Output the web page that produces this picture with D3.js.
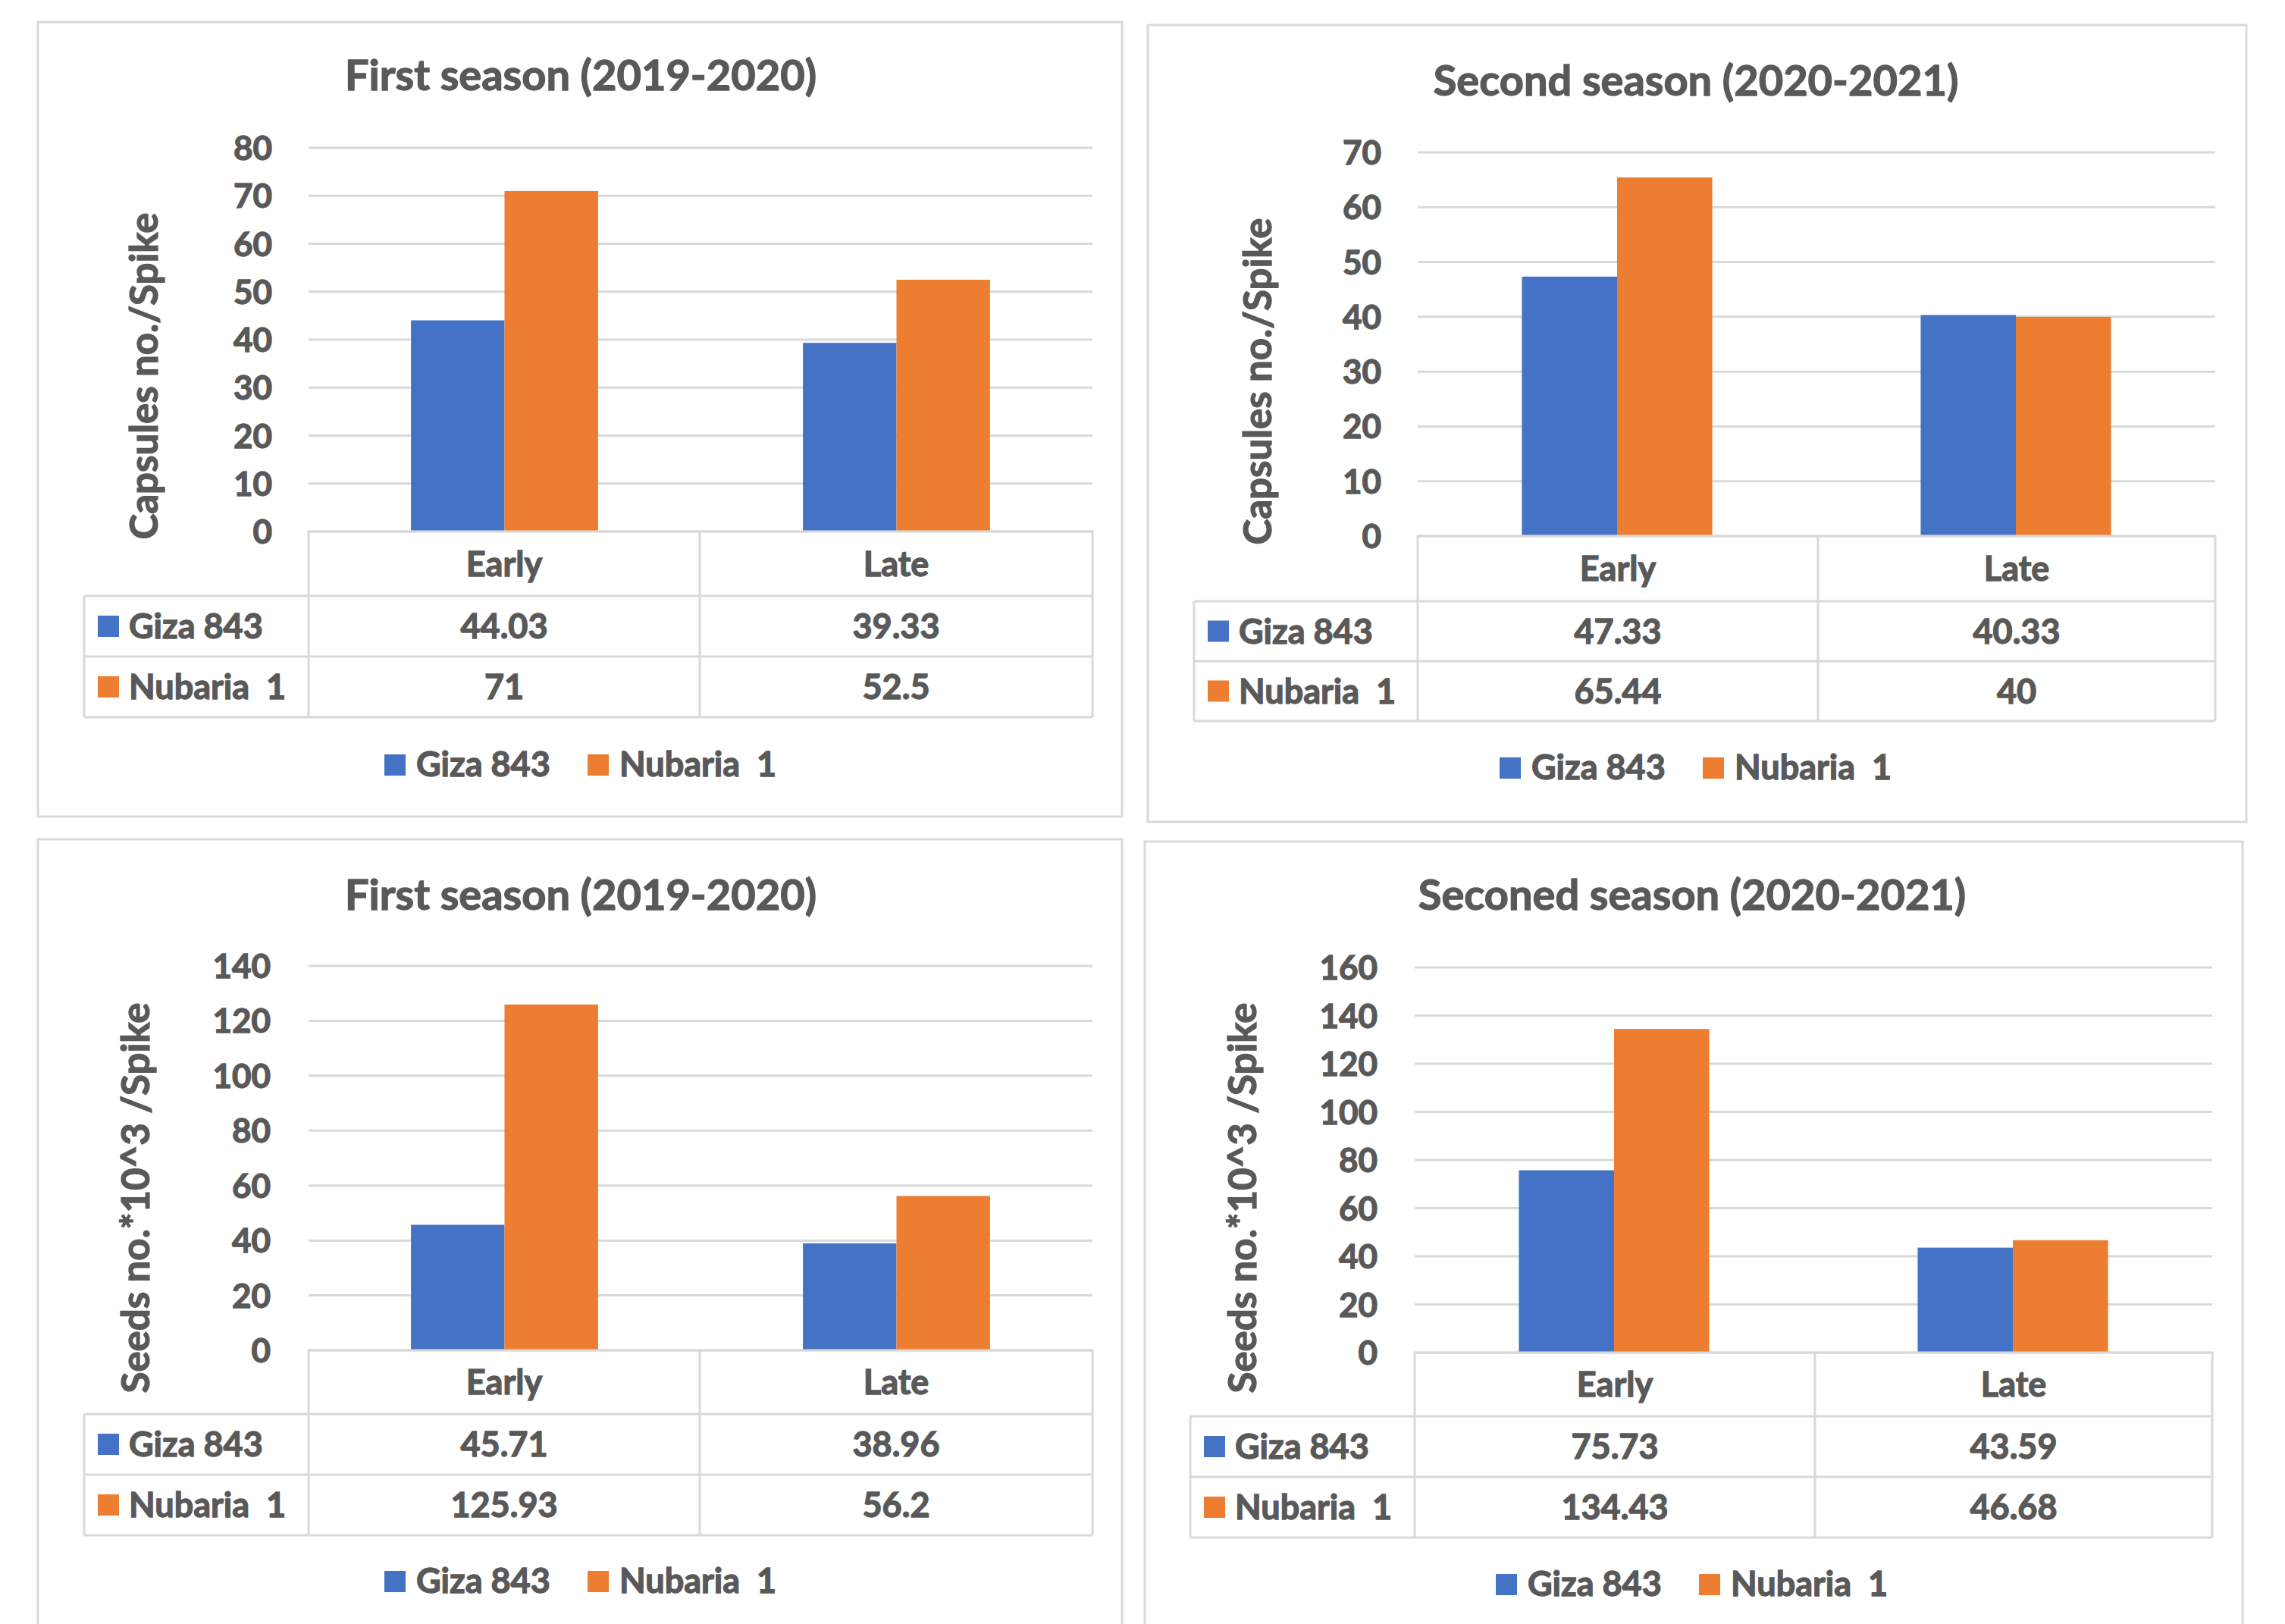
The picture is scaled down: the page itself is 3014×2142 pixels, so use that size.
<!DOCTYPE html>
<meta charset="utf-8">
<style>
body { margin: 0; background: #fff; }
text { font-family: Lato, "Open Sans", sans-serif; font-weight: bold; fill: #595959; stroke: #595959; stroke-width: 1.3px; }
.grid { stroke: #d9d9d9; stroke-width: 3px; }
.cell { stroke: #d9d9d9; stroke-width: 3px; fill: none; }
.frame { stroke: #d9d9d9; stroke-width: 3px; fill: #fff; }
</style>
<script src="https://d3js.org/d3.v7.min.js"></script>
<body>
<svg width="3014" height="2142"></svg>
</body>
<script>

// data
var categories = ["Early", "Late"];
var seriesNames = ["Giza 843", "Nubaria  1"];
var seriesColors = ["#4472c4", "#ed7d31"];

var titles = ["First season (2019-2020)", "Second season (2020-2021)",
              "First season (2019-2020)", "Seconed season (2020-2021)"];
var axisTitles = ["Capsules no./Spike", "Capsules no./Spike",
                  "Seeds no.*10^3 /Spike", "Seeds no.*10^3 /Spike"];

var capsFirstGiza = [44.03, 39.33];
var capsFirstNubaria = [71, 52.5];
var capsSecondGiza = [47.33, 40.33];
var capsSecondNubaria = [65.44, 40];
var seedsFirstGiza = [45.71, 38.96];
var seedsFirstNubaria = [125.93, 56.2];
var seedsSecondGiza = [75.73, 43.59];
var seedsSecondNubaria = [134.43, 46.68];

var capsFirstTicks = [0, 10, 20, 30, 40, 50, 60, 70, 80];
var capsSecondTicks = [0, 10, 20, 30, 40, 50, 60, 70];
var seedsFirstTicks = [0, 20, 40, 60, 80, 100, 120, 140];
var seedsSecondTicks = [0, 20, 40, 60, 80, 100, 120, 140, 160];

// layout of the four panels
var panels = [
  { frame: [50, 29, 1480, 1077], titleX: 766, titleY: 119, px: [407, 1441], py: [701, 195],
    tickX: 359, axX: 208, axY: 496, rows: [701, 786, 866, 946], cols: [111, 407, 923, 1441],
    legY: 1024, values: [capsFirstGiza, capsFirstNubaria], ticks: capsFirstTicks },
  { frame: [1514, 33, 2963, 1084], titleX: 2237, titleY: 126, px: [1870, 2922], py: [707, 201],
    tickX: 1822, axX: 1677, axY: 503, rows: [707, 793, 872, 951], cols: [1575, 1870, 2398, 2922],
    legY: 1028, values: [capsSecondGiza, capsSecondNubaria], ticks: capsSecondTicks },
  { frame: [50, 1107, 1480, 2175], titleX: 766, titleY: 1200, px: [407, 1441], py: [1781, 1274],
    tickX: 357, axX: 197, axY: 1580, rows: [1781, 1865, 1945, 2025], cols: [111, 407, 923, 1441],
    legY: 2101, values: [seedsFirstGiza, seedsFirstNubaria], ticks: seedsFirstTicks },
  { frame: [1510, 1110, 2958, 2175], titleX: 2232, titleY: 1200, px: [1866, 2918], py: [1784, 1276],
    tickX: 1817, axX: 1657, axY: 1580, rows: [1784, 1868, 1948, 2028], cols: [1570, 1866, 2394, 2918],
    legY: 2105, values: [seedsSecondGiza, seedsSecondNubaria], ticks: seedsSecondTicks }
];

var svg = d3.select("svg");
svg.append("rect").attr("width", 3014).attr("height", 2142).attr("fill", "#fff");

panels.forEach(function(p, i) {
  var g = svg.append("g");

  g.append("rect").attr("class", "frame")
    .attr("x", p.frame[0]).attr("y", p.frame[1])
    .attr("width", p.frame[2] - p.frame[0]).attr("height", p.frame[3] - p.frame[1]);

  g.append("text")
    .attr("x", p.titleX).attr("y", p.titleY)
    .attr("text-anchor", "middle")
    .style("font-size", "56px")
    .text(titles[i]);

  var ticks = p.ticks;
  var y = d3.scaleLinear().domain([0, ticks[ticks.length - 1]]).range(p.py);
  var x0 = d3.scaleBand().domain(categories).range(p.px);
  var groupW = x0.bandwidth() * 2 / (2 + 2.19);
  var x1 = d3.scaleBand().domain(seriesNames).range([0, groupW]);

  // gridlines + tick labels
  g.selectAll(".grid").data(ticks).enter().append("line")
    .attr("class", "grid")
    .attr("x1", p.px[0]).attr("x2", p.px[1])
    .attr("y1", function(d) { return y(d); }).attr("y2", function(d) { return y(d); });

  g.selectAll(".tick").data(ticks).enter().append("text")
    .attr("class", "tick")
    .attr("x", p.tickX).attr("y", function(d) { return y(d) + 16; })
    .attr("text-anchor", "end")
    .style("font-size", "44px")
    .text(function(d) { return d; });

  // bars
  seriesNames.forEach(function(s, si) {
    g.selectAll(".bar" + si).data(p.values[si]).enter().append("rect")
      .attr("class", "bar" + si)
      .attr("x", function(d, ci) { return x0(categories[ci]) + (x0.bandwidth() - groupW) / 2 + x1(s); })
      .attr("width", x1.bandwidth())
      .attr("y", function(d) { return y(d); })
      .attr("height", function(d) { return y(0) - y(d); })
      .attr("fill", seriesColors[si]);
  });

  // axis title
  g.append("text")
    .attr("transform", "translate(" + p.axX + "," + p.axY + ") rotate(-90)")
    .attr("text-anchor", "middle")
    .style("font-size", "51px")
    .text(axisTitles[i]);

  // data table
  var r = p.rows, c = p.cols;
  g.append("path").attr("class", "cell")
    .attr("d", "M" + c[1] + "," + r[3] + "V" + r[0] + "H" + c[3] + "V" + r[3]
      + "M" + c[2] + "," + r[0] + "V" + r[3]
      + "M" + c[0] + "," + r[1] + "H" + c[3]
      + "M" + c[0] + "," + r[2] + "H" + c[3]
      + "M" + c[0] + "," + r[3] + "H" + c[3]
      + "M" + c[0] + "," + r[1] + "V" + r[3]);

  categories.forEach(function(cat, ci) {
    g.append("text")
      .attr("x", (c[ci + 1] + c[ci + 2]) / 2).attr("y", (r[0] + r[1]) / 2 + 16)
      .attr("text-anchor", "middle")
      .style("font-size", "45px")
      .text(cat);
  });

  seriesNames.forEach(function(s, si) {
    var mid = (r[si + 1] + r[si + 2]) / 2;
    g.append("rect")
      .attr("x", c[0] + 18).attr("y", mid - 14)
      .attr("width", 28).attr("height", 28)
      .attr("fill", seriesColors[si]);
    g.append("text")
      .attr("x", c[0] + 59).attr("y", mid + 16)
      .style("font-size", "45px")
      .style("white-space", "pre")
      .text(s);
    p.values[si].forEach(function(v, ci) {
      g.append("text")
        .attr("x", (c[ci + 1] + c[ci + 2]) / 2).attr("y", mid + 16)
        .attr("text-anchor", "middle")
        .style("font-size", "45px")
        .text(v);
    });
  });

  // legend
  var legX = [p.titleX - 259, p.titleX + 9];
  seriesNames.forEach(function(s, si) {
    g.append("rect")
      .attr("x", legX[si]).attr("y", p.legY - 29)
      .attr("width", 28).attr("height", 28)
      .attr("fill", seriesColors[si]);
    g.append("text")
      .attr("x", legX[si] + 42).attr("y", p.legY)
      .style("font-size", "45px")
      .style("white-space", "pre")
      .text(s);
  });
});

</script>
